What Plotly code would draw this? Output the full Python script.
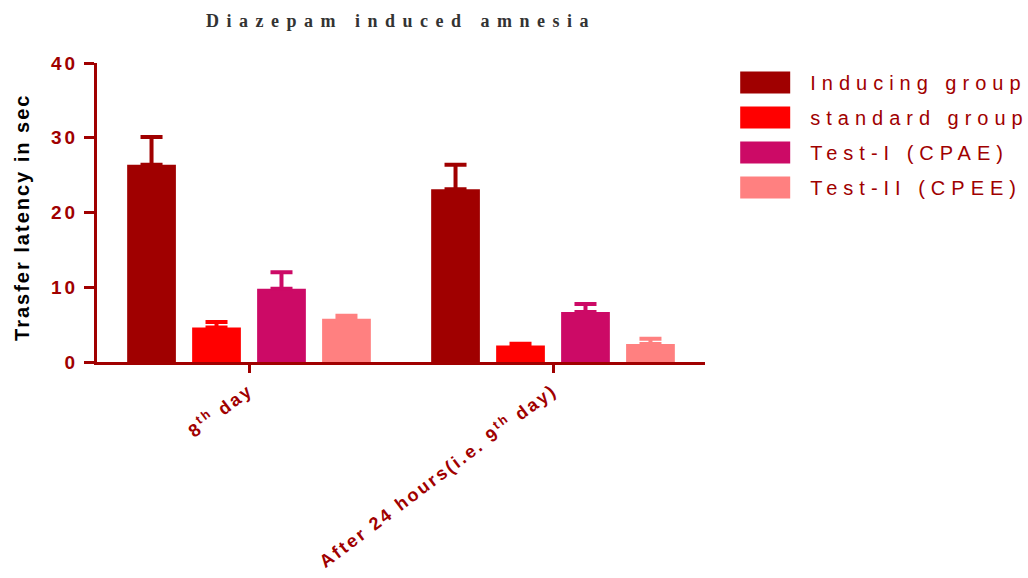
import plotly.graph_objects as go

categories = ["8<sup>th</sup> day", "After 24 hours(i.e. 9<sup>th</sup> day)"]
series_names = ["Inducing group", "standard group", "Test-I (CPAE)", "Test-II (CPEE)"]
series_colors = ["#A00000", "#FF0000", "#CC0A66", "#FF8080"]
means = [
    [26.4, 23.1],
    [4.6, 2.2],
    [9.8, 6.7],
    [5.8, 2.4],
]
errors_upper = [
    [3.7, 3.3],
    [0.75, 0.25],
    [2.2, 1.05],
    [0.4, 0.7],
]
y_title = "Trasfer latency in sec"

DARK = "#A00000"

fig = go.Figure()
for name, color, m, e in zip(series_names, series_colors, means, errors_upper):
    fig.add_trace(go.Bar(
        x=categories, y=m, name=name, legendgroup=name,
        marker=dict(color=color, line=dict(width=0)),
        error_y=dict(type="data", symmetric=False, array=e, arrayminus=[0] * len(e),
                     color=color, thickness=4, width=11),
    ))

fig.update_layout(
    width=1028, height=578,
    margin=dict(l=97, r=323, t=63, b=216),
    paper_bgcolor="white", plot_bgcolor="white",
    barmode="group", bargap=0.145, bargroupgap=0.25,
    title=dict(text="<b>Diazepam induced amnesia</b>", x=401 / 1028, xanchor="center",
               y=1 - 21 / 578, yanchor="middle",
               font=dict(family="Liberation Serif", size=18, color="#333333")),
    legend=dict(x=1.025, y=1.0, xanchor="left", yanchor="top",
                font=dict(family="Liberation Sans", size=20, color=DARK),
                itemwidth=80, tracegroupgap=6, bgcolor="rgba(0,0,0,0)"),
    showlegend=True,
    annotations=[dict(
        text=y_title, xref="paper", yref="paper", x=-0.1234, y=0.485,
        xanchor="center", yanchor="middle", textangle=-90, showarrow=False,
        font=dict(family="Liberation Sans", size=20, color="black", weight="bold"),
    )],
)
fig.update_xaxes(
    range=[-0.5, 1.5], showline=True, linecolor=DARK, linewidth=3,
    ticks="outside", tickcolor=DARK, tickwidth=3, ticklen=8,
    tickangle=-37, showgrid=False, zeroline=False,
    tickfont=dict(family="Liberation Sans", size=18, color=DARK, weight="bold"),
)
fig.update_yaxes(
    range=[0, 40], dtick=10, showline=True, linecolor=DARK, linewidth=3,
    ticks="outside", tickcolor=DARK, tickwidth=3, ticklen=10,
    ticklabelstandoff=2,
    showgrid=False, zeroline=False,
    tickfont=dict(family="Liberation Sans", size=19, color=DARK, weight="bold"),
)

post = """
var gd = document.getElementById('{plot_id}');
function sp(sel, v){ gd.querySelectorAll(sel).forEach(function(t){ t.style.letterSpacing = v; }); }
sp('.gtitle', '7.5px');
sp('.legendtext', '6px');
sp('.xtick text', '2.5px');
sp('.ytick text', '3px');
sp('.annotation-text', '2px');
gd.querySelectorAll('.legend .scrollbox, .legend [clip-path]').forEach(function(s){
  s.removeAttribute('clip-path');
});
gd.querySelectorAll('.legend .legendpoints path').forEach(function(p){
  p.setAttribute('d', 'M25,11H-25V-11H25Z');
});
"""

fig.write_html("out.html", post_script=post)
